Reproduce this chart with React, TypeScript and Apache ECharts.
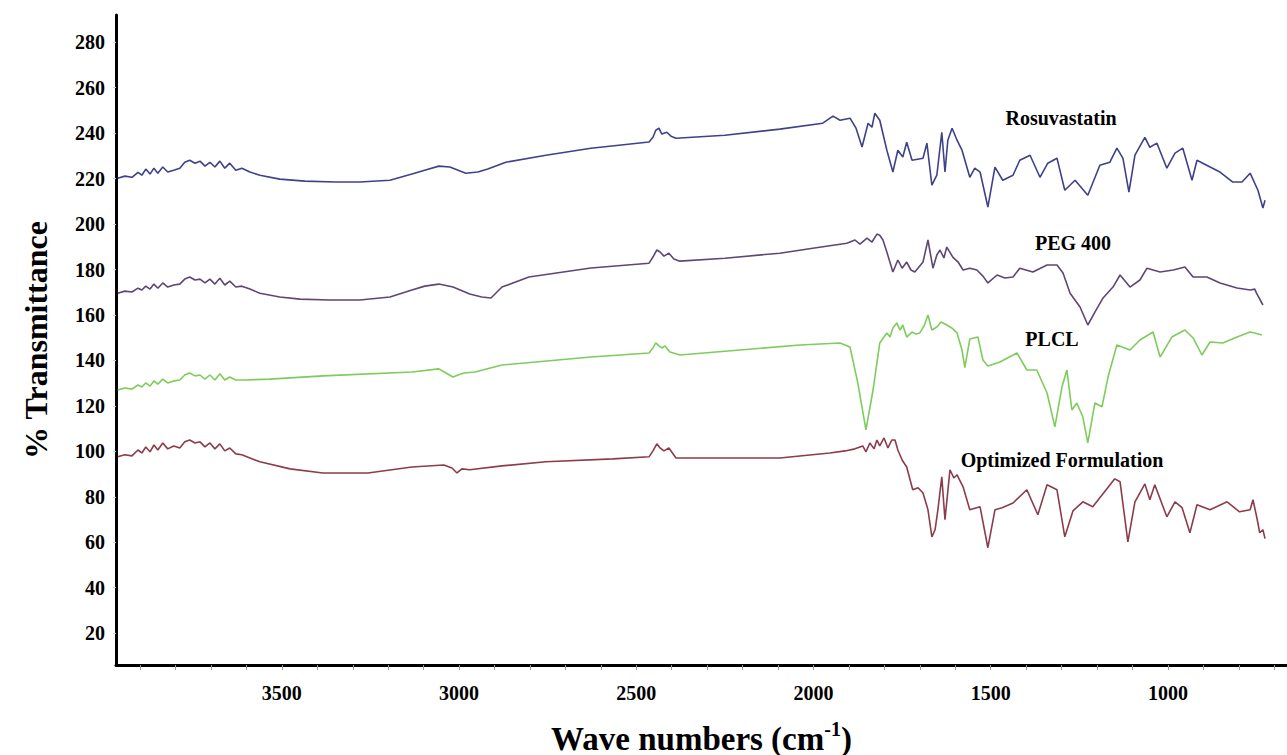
import React, { useEffect, useRef } from "react";
import * as echarts from "echarts";

// [wavenumber (cm-1), % transmittance]
const rosuvastatin: [number, number][] = [
  [3963, 220.2], [3943, 221.1], [3923, 220.6], [3906, 222.8], [3895, 221.5], [3884, 224.2], [3872, 222.0],
  [3861, 224.6], [3850, 222.4], [3836, 225.1], [3822, 222.9], [3805, 223.7], [3788, 224.6], [3774, 227.2],
  [3760, 228.1], [3745, 226.8], [3731, 227.7], [3717, 225.5], [3703, 227.2], [3689, 225.1], [3675, 227.7],
  [3661, 224.6], [3647, 226.8], [3630, 223.7], [3613, 224.6], [3590, 222.9], [3562, 221.5], [3506, 219.8],
  [3435, 218.9], [3350, 218.5], [3280, 218.5], [3195, 219.3], [3133, 222.0], [3097, 223.7], [3057, 225.5],
  [3026, 225.1], [2981, 222.4], [2947, 222.9], [2919, 224.2], [2868, 227.2], [2755, 230.3], [2628, 233.4],
  [2464, 236.1], [2453, 238.2], [2445, 241.3], [2436, 242.2], [2428, 239.6], [2414, 240.4], [2402, 238.7],
  [2388, 237.8], [2250, 239.1], [2095, 241.8], [1974, 244.4], [1945, 247.5], [1925, 245.7], [1897, 246.6],
  [1880, 242.2], [1863, 233.9], [1846, 244.4], [1835, 242.6], [1827, 248.8], [1813, 245.7], [1793, 232.5],
  [1776, 222.9], [1762, 232.5], [1748, 229.5], [1737, 236.0], [1722, 228.1], [1691, 229.0], [1680, 235.6],
  [1666, 217.1], [1652, 221.5], [1638, 240.4], [1629, 222.9], [1621, 236.9], [1609, 242.2], [1595, 236.9],
  [1581, 232.5], [1559, 220.6], [1545, 224.6], [1530, 222.9], [1508, 207.5], [1488, 225.1], [1466, 219.3],
  [1437, 221.5], [1418, 228.1], [1389, 230.3], [1361, 220.6], [1339, 226.8], [1313, 229.0], [1291, 214.9],
  [1262, 219.3], [1226, 212.7], [1192, 225.9], [1164, 227.2], [1144, 233.4], [1127, 229.0], [1110, 214.1],
  [1093, 230.3], [1065, 238.2], [1051, 233.8], [1031, 235.6], [1003, 224.6], [980, 231.2], [958, 233.4],
  [932, 219.3], [918, 228.1], [881, 225.1], [853, 222.9], [817, 218.5], [791, 218.5], [768, 222.4],
  [746, 214.9], [732, 207.1], [726, 210.5],
];

const peg400: [number, number][] = [
  [3963, 169.6], [3943, 170.5], [3923, 170.1], [3906, 171.8], [3895, 171.0], [3884, 172.7], [3872, 171.4],
  [3861, 173.6], [3850, 171.8], [3836, 174.1], [3822, 172.3], [3805, 173.2], [3788, 173.6], [3774, 175.8],
  [3760, 176.7], [3745, 175.4], [3731, 175.8], [3717, 174.1], [3703, 175.8], [3689, 173.6], [3675, 176.2],
  [3661, 173.2], [3647, 174.9], [3630, 172.3], [3613, 172.7], [3590, 171.4], [3562, 169.6], [3506, 167.9],
  [3449, 167.0], [3365, 166.6], [3280, 166.6], [3195, 167.9], [3133, 171.0], [3097, 172.7], [3057, 173.6],
  [3017, 172.3], [2970, 169.2], [2936, 167.9], [2910, 167.5], [2879, 172.3], [2803, 176.7], [2628, 180.7],
  [2464, 182.8], [2453, 185.5], [2442, 188.6], [2433, 187.7], [2422, 185.9], [2408, 187.2], [2394, 184.6],
  [2377, 183.7], [2250, 185.0], [2095, 187.2], [2002, 189.4], [1906, 191.6], [1883, 193.0], [1869, 191.2],
  [1849, 193.8], [1835, 192.1], [1821, 195.6], [1813, 195.1], [1804, 193.0], [1793, 187.7], [1776, 178.9],
  [1762, 184.2], [1750, 180.6], [1737, 183.3], [1725, 179.8], [1714, 178.9], [1691, 183.3], [1677, 193.0],
  [1663, 180.6], [1652, 186.4], [1643, 188.6], [1632, 185.1], [1624, 189.9], [1607, 185.5], [1592, 183.3],
  [1578, 179.8], [1559, 180.6], [1539, 179.8], [1522, 177.1], [1508, 174.1], [1482, 177.6], [1460, 176.3],
  [1437, 176.7], [1418, 180.6], [1381, 178.9], [1341, 182.0], [1313, 182.0], [1296, 178.5], [1276, 169.6],
  [1248, 163.5], [1226, 155.6], [1206, 161.3], [1183, 167.5], [1155, 172.3], [1135, 177.6], [1107, 172.3],
  [1079, 175.4], [1059, 180.6], [1022, 178.9], [985, 179.8], [952, 181.1], [929, 176.7], [890, 176.7],
  [853, 174.1], [805, 171.9], [768, 171.0], [755, 171.4], [750, 169.6], [732, 164.4],
];

const plcl: [number, number][] = [
  [3963, 127.0], [3943, 127.9], [3923, 127.4], [3906, 129.2], [3895, 128.3], [3884, 130.1], [3872, 128.7],
  [3861, 131.0], [3850, 129.6], [3836, 131.8], [3822, 130.1], [3805, 131.0], [3788, 131.4], [3774, 133.6],
  [3760, 134.5], [3745, 133.2], [3731, 133.6], [3717, 131.8], [3703, 133.6], [3689, 131.4], [3675, 134.1],
  [3661, 131.4], [3647, 132.7], [3630, 131.4], [3604, 131.4], [3534, 131.8], [3384, 133.2], [3133, 134.9],
  [3057, 136.3], [3037, 134.5], [3017, 132.7], [3003, 133.6], [2986, 134.5], [2955, 134.9], [2879, 138.0],
  [2628, 141.5], [2464, 143.3], [2453, 145.5], [2445, 147.7], [2436, 146.4], [2428, 145.5], [2419, 146.4],
  [2405, 143.7], [2377, 142.4], [2038, 146.8], [1925, 147.7], [1897, 145.9], [1875, 130.1], [1852, 109.5],
  [1832, 127.0], [1813, 147.7], [1793, 152.1], [1784, 150.3], [1776, 154.3], [1765, 156.5], [1756, 153.4],
  [1748, 155.6], [1737, 150.3], [1722, 152.5], [1711, 151.6], [1700, 152.1], [1688, 155.2], [1677, 160.0],
  [1666, 153.4], [1652, 154.7], [1640, 156.9], [1624, 155.6], [1610, 154.3], [1595, 152.1], [1581, 144.6],
  [1573, 136.8], [1559, 149.4], [1536, 150.3], [1522, 140.2], [1508, 137.6], [1474, 139.3], [1426, 143.3],
  [1398, 135.8], [1370, 135.8], [1341, 125.7], [1319, 110.8], [1299, 128.3], [1285, 135.8], [1271, 118.2],
  [1257, 121.3], [1240, 115.1], [1226, 103.7], [1206, 121.3], [1186, 119.6], [1169, 132.7], [1144, 146.8],
  [1107, 144.6], [1079, 149.0], [1042, 152.5], [1022, 141.5], [989, 150.3], [952, 153.4], [929, 149.9],
  [904, 142.4], [881, 148.1], [845, 147.7], [805, 150.3], [768, 152.5], [755, 152.1], [735, 151.2],
];

const optimized: [number, number][] = [
  [3963, 97.6], [3943, 98.5], [3923, 98.0], [3906, 100.6], [3895, 99.3], [3884, 101.9], [3872, 99.8],
  [3861, 102.8], [3850, 100.6], [3836, 103.7], [3822, 101.1], [3805, 102.4], [3788, 101.5], [3774, 104.2],
  [3760, 105.0], [3745, 103.7], [3731, 104.2], [3717, 102.0], [3703, 103.7], [3689, 101.1], [3675, 103.3],
  [3661, 100.2], [3647, 101.5], [3630, 98.9], [3613, 98.5], [3590, 97.1], [3562, 95.4], [3477, 92.3],
  [3384, 90.5], [3257, 90.5], [3133, 93.1], [3043, 94.0], [3020, 92.7], [3006, 90.5], [2992, 92.3],
  [2970, 91.9], [2879, 93.6], [2755, 95.4], [2566, 96.7], [2464, 97.6], [2453, 100.2], [2442, 103.3],
  [2433, 101.5], [2422, 100.2], [2408, 101.5], [2388, 97.1], [2321, 97.1], [2095, 97.1], [1954, 99.3],
  [1911, 100.2], [1883, 101.1], [1861, 102.4], [1852, 99.8], [1841, 103.7], [1829, 101.1], [1821, 105.0],
  [1813, 102.4], [1801, 105.9], [1790, 101.5], [1779, 105.0], [1770, 105.0], [1762, 100.6], [1750, 96.2],
  [1737, 93.1], [1720, 83.1], [1705, 84.0], [1691, 81.7], [1677, 74.3], [1666, 62.4], [1657, 65.5],
  [1649, 74.3], [1638, 88.8], [1629, 69.9], [1615, 91.9], [1604, 88.3], [1595, 89.7], [1578, 84.4],
  [1559, 74.3], [1530, 75.6], [1508, 57.6], [1488, 74.3], [1468, 75.2], [1437, 77.3], [1398, 83.1],
  [1367, 72.1], [1341, 85.3], [1313, 83.1], [1291, 62.4], [1268, 73.8], [1240, 77.8], [1212, 75.6],
  [1172, 83.5], [1150, 87.9], [1135, 86.6], [1113, 60.2], [1093, 77.8], [1065, 85.7], [1051, 78.7],
  [1037, 85.3], [1003, 71.2], [980, 77.8], [960, 75.2], [938, 64.2], [918, 76.5], [881, 74.3],
  [833, 77.8], [798, 73.4], [768, 74.3], [760, 78.7], [749, 70.8], [741, 64.2], [732, 65.5], [726, 61.6],
];

const seriesNames = ["Rosuvastatin", "PEG 400", "PLCL", "Optimized Formulation"];
const seriesColors = ["#3f4189", "#5e4676", "#7dcc5c", "#8c3c4a"];
const yTickValues = [20, 40, 60, 80, 100, 120, 140, 160, 180, 200, 220, 240, 260, 280];
const xLabelValues = [1000, 1500, 2000, 2500, 3000, 3500];
const xTickValues = [
  700, 800, 900, 1000, 1100, 1200, 1300, 1400, 1500, 1600, 1700, 1800, 1900, 2000, 2100, 2200,
  2300, 2400, 2500, 2600, 2700, 2800, 2900, 3000, 3100, 3200, 3300, 3400, 3500, 3600, 3700, 3800, 3900,
];

const FONT = "'Liberation Serif', 'Times New Roman', serif";

export default function App() {
  const ref = useRef<HTMLDivElement>(null);
  useEffect(() => {
    if (!ref.current) return;
    const chart = echarts.init(ref.current, undefined, { renderer: "svg" });
    const allData = [rosuvastatin, peg400, plcl, optimized];
    const labelPos = [
      [1061, 118],
      [1073, 243],
      [1052, 339],
      [1062, 460],
    ];
    chart.setOption({
      animation: false,
      backgroundColor: "#ffffff",
      grid: { left: 116, right: 0, top: 15, bottom: 90, outerBoundsMode: "none", containLabel: false },
      xAxis: {
        type: "value",
        inverse: true,
        min: 664,
        max: 3968,
        axisLine: { onZero: false, lineStyle: { color: "#000", width: 3 } },
        axisTick: {
          show: true,
          customValues: xTickValues,
          length: 5,
          lineStyle: { color: "#999", width: 1 },
        },
        axisLabel: {
          customValues: xLabelValues,
          formatter: (v: number) => String(v),
          margin: 18,
          color: "#000",
          fontFamily: FONT,
          fontWeight: "bold",
          fontSize: 20,
        },
        splitLine: { show: false },
        name: "{a|Wave numbers (cm}{s|-1}{a|)}",
        nameLocation: "middle",
        nameGap: 54,
        nameTextStyle: {
          rich: {
            a: { fontFamily: FONT, fontWeight: "bold", fontSize: 33, color: "#000", verticalAlign: "bottom", lineHeight: 36 },
            s: { fontFamily: FONT, fontWeight: "bold", fontSize: 20, color: "#000", verticalAlign: "top", lineHeight: 36, padding: [0, 0, 14, 0] },
          },
        },
      },
      yAxis: {
        type: "value",
        min: 6,
        max: 292,
        axisLine: { show: true, onZero: false, lineStyle: { color: "#000", width: 3 } },
        axisTick: {
          show: true,
          customValues: yTickValues,
          length: 3,
          lineStyle: { color: "#ccc", width: 1 },
        },
        axisLabel: {
          customValues: yTickValues,
          formatter: (v: number) => String(v),
          margin: 11,
          color: "#000",
          fontFamily: FONT,
          fontWeight: "bold",
          fontSize: 20,
        },
        splitLine: { show: false },
        name: "% Transmittance",
        nameLocation: "middle",
        nameGap: 64,
        nameTextStyle: { fontFamily: FONT, fontWeight: "bold", fontSize: 32, color: "#000" },
      },
      series: allData.map((d, i) => ({
        name: seriesNames[i],
        type: "line",
        data: d,
        showSymbol: false,
        symbol: "none",
        lineStyle: { color: seriesColors[i], width: 1.6 },
        z: 2,
      })),
      graphic: seriesNames.map((n, i) => ({
        type: "text",
        x: labelPos[i][0],
        y: labelPos[i][1],
        style: {
          text: n,
          fontFamily: FONT,
          fontWeight: "bold",
          fontSize: 20,
          fill: "#000",
          align: "center",
          verticalAlign: "middle",
        },
      })),
    });
    return () => chart.dispose();
  }, []);
  return (
    <div
      ref={ref}
      style={{ position: "fixed", left: 0, top: 0, width: 1287, height: 755, background: "#fff" }}
    />
  );
}
